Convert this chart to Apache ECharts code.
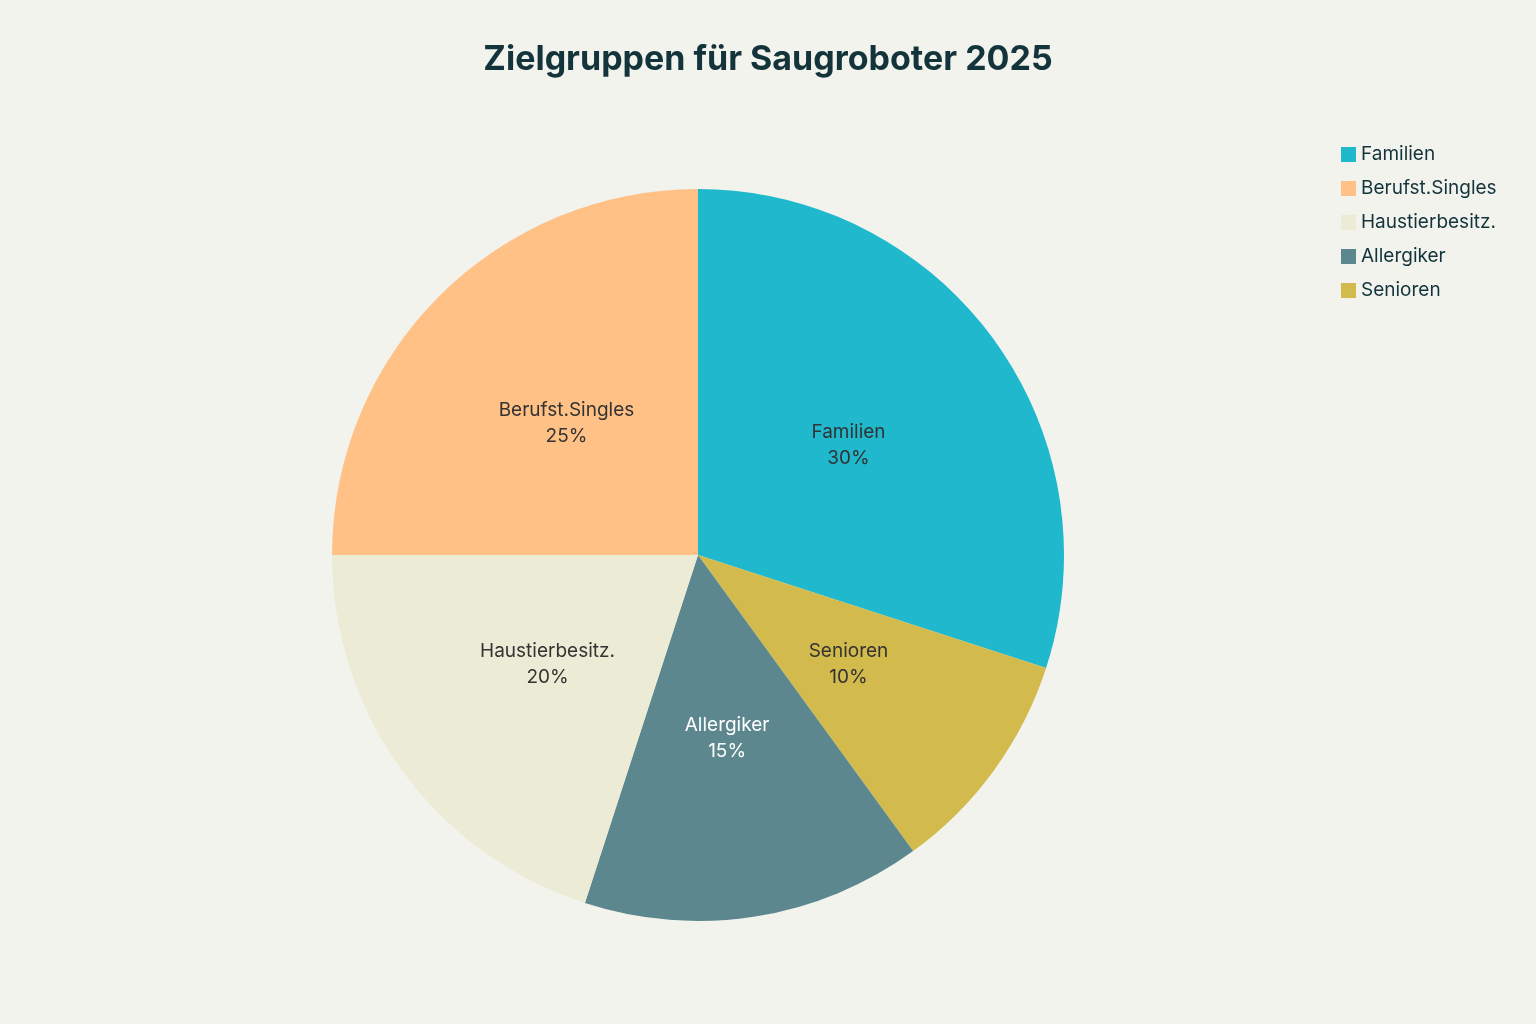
<!DOCTYPE html>
<html>
<head>
<meta charset="utf-8">
<script src="https://cdn.jsdelivr.net/npm/echarts@6/dist/echarts.min.js"></script>
<style>html,body{margin:0;padding:0;background:#F3F3EE;}#main{width:1536px;height:1024px;}</style>
</head>
<body>
<div id="main"></div>
<script>
// Reihenfolge im Uhrzeigersinn ab 12 Uhr
var categories = ['Familien', 'Senioren', 'Allergiker', 'Haustierbesitz.', 'Berufst.Singles'];
var values = [30, 10, 15, 20, 25];
var colors = ['#1FB8CD', '#D2BA4C', '#5D878F', '#ECEBD5', '#FFC185'];
var legendOrder = ['Familien', 'Berufst.Singles', 'Haustierbesitz.', 'Allergiker', 'Senioren'];

var myChart = echarts.init(document.getElementById('main'));

var option = {
    backgroundColor: '#F3F3EE',
    textStyle: { fontFamily: 'Inter, "Noto Sans", sans-serif' },
    title: {
        text: 'Zielgruppen für Saugroboter 2025',
        left: 'center',
        top: 38,
        textStyle: { fontSize: 34, fontWeight: 'bold', color: '#13343B' }
    },
    legend: {
        data: legendOrder,
        orient: 'vertical',
        left: 1336,
        top: 140,
        itemWidth: 15,
        itemHeight: 15,
        itemGap: 15,
        icon: 'rect',
        textStyle: { fontSize: 19, color: '#13343B' }
    },
    series: [{
        type: 'pie',
        center: [698, 555],
        radius: 366,
        startAngle: 90,
        clockwise: true,
        data: categories.map(function (c, i) {
            return {
                name: c,
                value: values[i],
                itemStyle: { color: colors[i] },
                label: { color: c === 'Allergiker' ? '#ffffff' : '#333333' }
            };
        }),
        label: {
            position: 'inner',
            formatter: '{b}\n{c}%',
            fontSize: 19,
            lineHeight: 26
        },
        labelLine: { show: false }
    }]
};

myChart.setOption(option);
</script>
</body>
</html>
